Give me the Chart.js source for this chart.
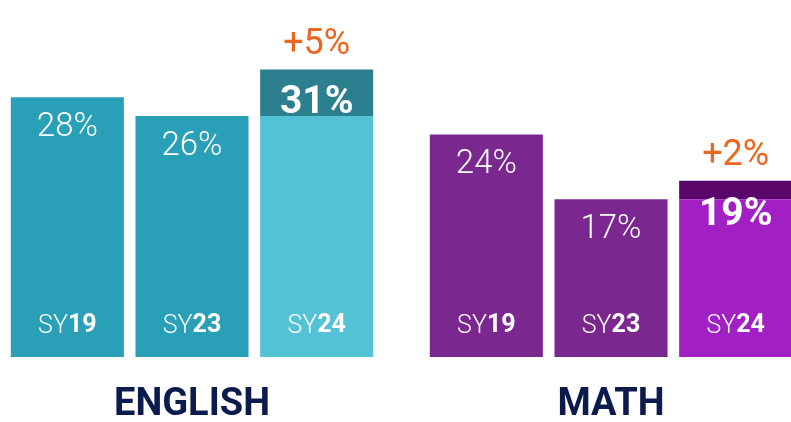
<!DOCTYPE html>
<html>
<head>
<meta charset="utf-8">
<script src="https://cdn.jsdelivr.net/npm/chart.js@4/dist/chart.umd.min.js"></script>
<style>
  html, body { margin: 0; padding: 0; background: #ffffff; overflow: hidden; width: 791px; height: 422px; }
  .wrap { position: absolute; top: 0; height: 422px; width: 374px; }
  #w1 { left: 5px; }
  #w2 { left: 424px; }
</style>
</head>
<body>
<div class="wrap" id="w1"><canvas id="c1"></canvas></div>
<div class="wrap" id="w2"><canvas id="c2"></canvas></div>
<script>
// ---- data ----
const categories = ['SY19', 'SY23', 'SY24'];
const yearPrefix = 'SY';
const yearDigits = ['19', '23', '24'];

const englishTitle = 'ENGLISH';
const englishBase = [28, 26, 26];   // previous level
const englishGain = [0, 0, 5];      // gain vs SY23
const englishTotal = [28, 26, 31];
const englishGainLabels = ['', '', '+5%'];

const mathTitle = 'MATH';
const mathBase = [24, 17, 17];
const mathGain = [0, 0, 2];
const mathTotal = [24, 17, 19];
const mathGainLabels = ['', '', '+2%'];

const yMax = 38.5;

const LIGHT = "300 {s}px 'Roboto Light', 'Roboto', sans-serif";
function light(s) { return LIGHT.replace('{s}', s); }

const labelPlugin = {
  id: 'barLabels',
  afterDatasetsDraw(chart, args, opts) {
    const ctx = chart.ctx;
    const x = chart.scales.x, y = chart.scales.y;
    const base = y.getPixelForValue(0);
    ctx.save();
    ctx.textAlign = 'center';
    ctx.textBaseline = 'middle';
    categories.forEach((c, i) => {
      const cx = x.getPixelForValue(i);
      const total = opts.total[i];
      const top = y.getPixelForValue(total);
      const hasGain = opts.gain[i] > 0;
      ctx.fillStyle = '#ffffff';
      if (hasGain) {
        ctx.font = '700 39px Roboto';
        ctx.fillText(total + '%', cx, top + 34);
        ctx.fillStyle = '#EC661F';
        ctx.font = '400 36px Roboto';
        ctx.fillText(opts.gainLabels[i], cx, top - 25);
      } else {
        ctx.font = light(33);
        ctx.fillText(total + '%', cx, top + 29);
      }
      // SY label with light prefix + bold digits
      ctx.fillStyle = '#ffffff';
      ctx.font = light(25);
      const w1 = ctx.measureText(yearPrefix).width;
      ctx.font = '700 25px Roboto';
      const w2 = ctx.measureText(yearDigits[i]).width;
      const start = cx - (w1 + w2) / 2;
      ctx.textAlign = 'left';
      ctx.font = light(25);
      ctx.fillText(yearPrefix, start, base - 31);
      ctx.font = '700 25px Roboto';
      ctx.fillText(yearDigits[i], start + w1, base - 31);
      ctx.textAlign = 'center';
    });
    ctx.restore();
  }
};

function makeChart(id, title, baseVals, gainVals, totals, gainLabels, baseColors, gainColor) {
  return new Chart(document.getElementById(id), {
    type: 'bar',
    data: {
      labels: categories,
      datasets: [
        { data: baseVals, backgroundColor: baseColors, borderWidth: 0,
          barPercentage: 0.907, categoryPercentage: 1.0, stack: 's' },
        { data: gainVals, backgroundColor: gainColor, borderWidth: 0,
          barPercentage: 0.907, categoryPercentage: 1.0, stack: 's' }
      ]
    },
    options: {
      responsive: true,
      maintainAspectRatio: false,
      animation: false,
      layout: { padding: 0 },
      scales: {
        x: { display: false, stacked: true },
        y: { display: false, stacked: true, min: 0, max: yMax }
      },
      plugins: {
        legend: { display: false },
        tooltip: { enabled: false },
        title: {
          display: true, text: title, position: 'bottom',
          color: '#0C1B4D',
          font: { family: 'Roboto', size: 38, weight: '700', lineHeight: 1.0 },
          padding: { top: 29, bottom: -2 }
        },
        barLabels: { total: totals, gain: gainVals, gainLabels: gainLabels }
      }
    },
    plugins: [labelPlugin]
  });
}

makeChart('c1', englishTitle, englishBase, englishGain, englishTotal, englishGainLabels,
  ['#2A9FB8', '#2A9FB8', '#53C2D5'], '#2C7F8F');
makeChart('c2', mathTitle, mathBase, mathGain, mathTotal, mathGainLabels,
  ['#7A288F', '#7A288F', '#A220C3'], '#59056A');
</script>
</body>
</html>
